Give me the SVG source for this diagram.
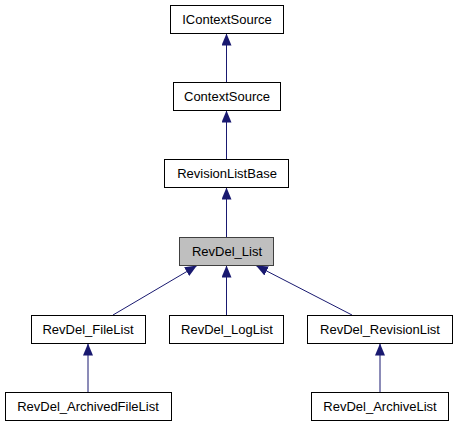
<svg xmlns="http://www.w3.org/2000/svg" width="457" height="427" viewBox="0 0 457 427">
<defs>
<style>
.n rect{fill:#fff;stroke:#000;stroke-width:1}
.n.cur rect{fill:#bfbfbf;stroke:#404040}
.n text{font-family:"Liberation Sans",Arial,sans-serif;font-size:13px;text-anchor:middle;fill:#000}
.e{stroke:#191970;stroke-width:1;fill:none}
</style>
<marker id="ah" viewBox="0 0 12 10" refX="12" refY="5" markerWidth="12" markerHeight="10" markerUnits="userSpaceOnUse" orient="auto">
<path d="M0,0 L12,5 L0,10 Z" fill="#191970"/>
</marker>
</defs>
<rect width="457" height="427" fill="#fff"/>
<g id="edges">
<line class="e" x1="226.5" y1="83" x2="226.5" y2="33.5" marker-end="url(#ah)"/>
<line class="e" x1="226.5" y1="160" x2="226.5" y2="110.5" marker-end="url(#ah)"/>
<line class="e" x1="226.5" y1="237" x2="226.5" y2="187.5" marker-end="url(#ah)"/>
<line class="e" x1="113" y1="315" x2="197" y2="265.5" marker-end="url(#ah)"/>
<line class="e" x1="226.5" y1="315" x2="226.5" y2="265.5" marker-end="url(#ah)"/>
<line class="e" x1="352" y1="315" x2="256" y2="265.5" marker-end="url(#ah)"/>
<line class="e" x1="88" y1="392" x2="88" y2="343.5" marker-end="url(#ah)"/>
<line class="e" x1="380" y1="392" x2="380" y2="343.5" marker-end="url(#ah)"/>
</g>
<g id="IContextSource" class="n"><rect x="170.5" y="5.5" width="113" height="28"/><text x="227" y="24">IContextSource</text></g>
<g id="ContextSource" class="n"><rect x="173.5" y="82.5" width="107" height="28"/><text x="227" y="101">ContextSource</text></g>
<g id="RevisionListBase" class="n"><rect x="164.5" y="159.5" width="124" height="28"/><text x="227" y="178">RevisionListBase</text></g>
<g id="RevDel_List" class="n cur"><rect x="179.5" y="237.5" width="94" height="28"/><text x="227" y="256">RevDel_List</text></g>
<g id="RevDel_FileList" class="n"><rect x="31.5" y="315.5" width="114" height="28"/><text x="88" y="334">RevDel_FileList</text></g>
<g id="RevDel_LogList" class="n"><rect x="169.5" y="315.5" width="114" height="28"/><text x="227" y="334">RevDel_LogList</text></g>
<g id="RevDel_RevisionList" class="n"><rect x="307.5" y="315.5" width="145" height="28"/><text x="380" y="334">RevDel_RevisionList</text></g>
<g id="RevDel_ArchivedFileList" class="n"><rect x="5.5" y="392.5" width="166" height="28"/><text x="88" y="411">RevDel_ArchivedFileList</text></g>
<g id="RevDel_ArchiveList" class="n"><rect x="311.5" y="392.5" width="137" height="28"/><text x="380" y="411">RevDel_ArchiveList</text></g>
</svg>
